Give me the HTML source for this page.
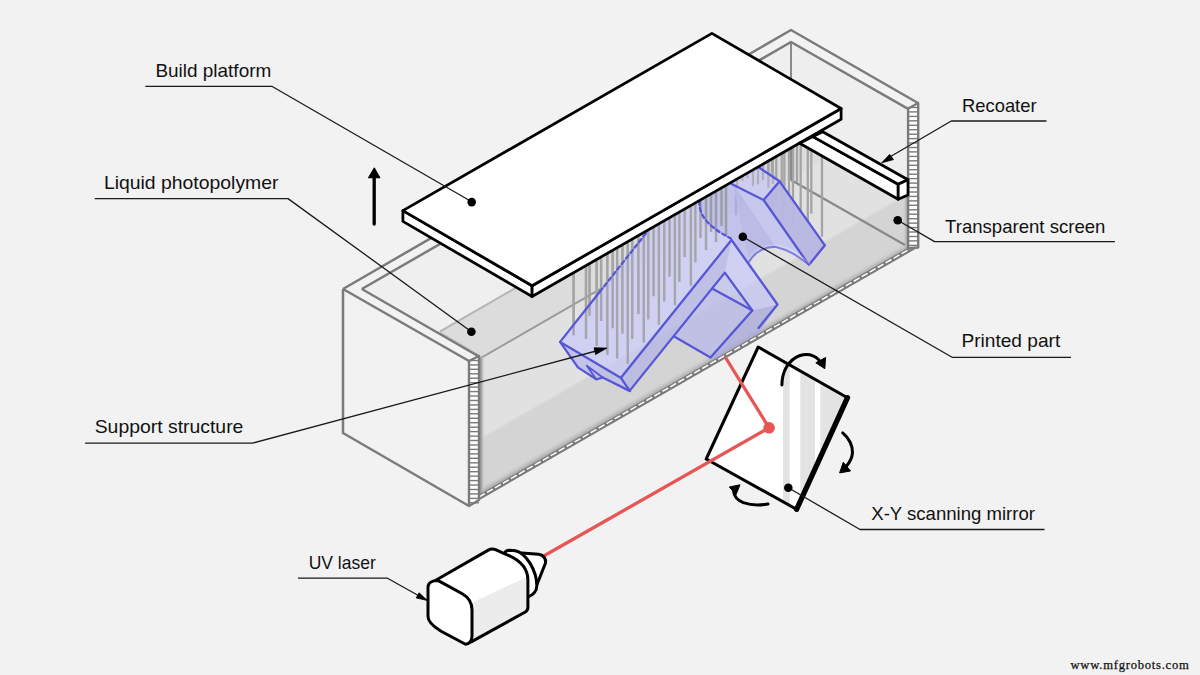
<!DOCTYPE html>
<html><head><meta charset="utf-8"><style>
html,body{margin:0;padding:0;background:#f2f2f2;}
svg{display:block;}
</style></head><body>
<svg width="1200" height="675" viewBox="0 0 1200 675">
<rect width="1200" height="675" fill="#f2f2f2"/>
<polygon points="343.0,289.0 469.0,361.0 469.0,506.0 343.0,433.0" fill="#f2f2f2" stroke="none" stroke-width="0" stroke-linejoin="round" />
<polygon points="361.8,289.0 791.0,42.0 908.0,108.0 907.5,110.0 479.0,357.0 477.0,355.0" fill="#efefef" stroke="none" stroke-width="0" stroke-linejoin="round" />
<polygon points="439.8,331.7 791.0,129.0 907.5,196.0 907.5,111.8 482.6,357.0" fill="#dcdcdc" stroke="none" stroke-width="0" stroke-linejoin="round" />
<line x1="439.8" y1="331.7" x2="791.0" y2="129.0" stroke="#b5b5b5" stroke-width="2" />
<polygon points="479.0,359.0 907.5,111.8 907.5,248.0 479.0,494.0" fill="#e1e1e1" stroke="none" stroke-width="0" stroke-linejoin="round" />
<polygon points="479.0,439.5 907.5,194.5 907.5,248.0 479.0,494.0" fill="#d4d4d4" stroke="none" stroke-width="0" stroke-linejoin="round" />
<line x1="479.0" y1="439.5" x2="907.5" y2="194.5" stroke="#dadada" stroke-width="1.5" />
<defs><linearGradient id="gb" gradientUnits="userSpaceOnUse" x1="700" y1="367.8" x2="696.5" y2="361.7"><stop offset="0" stop-color="#a8a8a8"/><stop offset="0.4" stop-color="#c2c2c2"/><stop offset="1" stop-color="#d4d4d4" stop-opacity="0"/></linearGradient><linearGradient id="gl" gradientUnits="userSpaceOnUse" x1="479" y1="0" x2="485" y2="0"><stop offset="0" stop-color="#8f8f8f"/><stop offset="0.45" stop-color="#a9a9a9"/><stop offset="1" stop-color="#d8d8d8" stop-opacity="0"/></linearGradient><linearGradient id="gr" gradientUnits="userSpaceOnUse" x1="908" y1="0" x2="902" y2="0"><stop offset="0" stop-color="#9a9a9a"/><stop offset="1" stop-color="#d8d8d8" stop-opacity="0"/></linearGradient></defs>
<polygon points="479.0,500.0 907.5,253.0 907.5,240.0 479.0,487.0" fill="url(#gb)" stroke="none" stroke-width="0" stroke-linejoin="round" />
<polygon points="478.0,358.0 487.0,353.0 487.0,495.0 478.0,500.0" fill="url(#gl)" stroke="none" stroke-width="0" stroke-linejoin="round" />
<polygon points="902.0,190.0 908.0,187.0 908.0,252.0 902.0,256.0" fill="url(#gr)" stroke="none" stroke-width="0" stroke-linejoin="round" />
<polygon points="791.0,42.0 908.0,108.0 908.0,190.0 791.0,124.0" fill="#eeeeee" stroke="none" stroke-width="0" stroke-linejoin="round" />
<line x1="791.0" y1="42.0" x2="791.0" y2="180.0" stroke="#8a8a8a" stroke-width="2" />
<line x1="791.0" y1="180.0" x2="905.0" y2="245.0" stroke="#888888" stroke-width="2.2" />
<line x1="482.6" y1="357.0" x2="608.0" y2="284.6" stroke="#9a9a9a" stroke-width="2" />
<line x1="440.0" y1="333.0" x2="479.0" y2="356.0" stroke="#c2c2c2" stroke-width="3" />
<polyline points="343.0,289.0 791.0,30.0 918.0,103.0" fill="none" stroke="#7b7b7b" stroke-width="2.5" stroke-linejoin="round" />
<polyline points="361.8,289.0 791.0,42.0 908.1,108.8" fill="none" stroke="#7b7b7b" stroke-width="2.5" stroke-linejoin="round" />
<line x1="361.8" y1="289.0" x2="478.0" y2="356.0" stroke="#7b7b7b" stroke-width="2.5" />
<polyline points="343.0,289.0 343.0,433.0 469.0,506.0" fill="none" stroke="#7b7b7b" stroke-width="2.5" stroke-linejoin="round" />
<line x1="343.0" y1="289.0" x2="469.0" y2="361.0" stroke="#7b7b7b" stroke-width="2.5" />
<polygon points="469.0,506.0 918.0,247.5 918.0,242.0 469.0,500.5" fill="#7b7b7b" stroke="none" stroke-width="0" stroke-linejoin="round" />
<line x1="471.0" y1="501.6" x2="916.0" y2="245.4" stroke="#ffffff" stroke-width="1.5" stroke-dasharray="6.8 2.4"/>
<polygon points="469.0,361.0 479.0,356.0 479.0,500.0 469.0,506.0" fill="#ffffff" stroke="#7b7b7b" stroke-width="2.4" stroke-linejoin="round" />
<rect x="469.0" y="359.8" width="10.0" height="1.4" fill="#7b7b7b"/>
<rect x="469.0" y="364.2" width="10.0" height="1.4" fill="#7b7b7b"/>
<rect x="469.0" y="368.6" width="10.0" height="1.4" fill="#7b7b7b"/>
<rect x="469.0" y="373.1" width="10.0" height="1.4" fill="#7b7b7b"/>
<rect x="469.0" y="377.5" width="10.0" height="1.4" fill="#7b7b7b"/>
<rect x="469.0" y="382.0" width="10.0" height="1.4" fill="#7b7b7b"/>
<rect x="469.0" y="386.4" width="10.0" height="1.4" fill="#7b7b7b"/>
<rect x="469.0" y="390.9" width="10.0" height="1.4" fill="#7b7b7b"/>
<rect x="469.0" y="395.3" width="10.0" height="1.4" fill="#7b7b7b"/>
<rect x="469.0" y="399.8" width="10.0" height="1.4" fill="#7b7b7b"/>
<rect x="469.0" y="404.2" width="10.0" height="1.4" fill="#7b7b7b"/>
<rect x="469.0" y="408.7" width="10.0" height="1.4" fill="#7b7b7b"/>
<rect x="469.0" y="413.1" width="10.0" height="1.4" fill="#7b7b7b"/>
<rect x="469.0" y="417.6" width="10.0" height="1.4" fill="#7b7b7b"/>
<rect x="469.0" y="422.0" width="10.0" height="1.4" fill="#7b7b7b"/>
<rect x="469.0" y="426.5" width="10.0" height="1.4" fill="#7b7b7b"/>
<rect x="469.0" y="430.9" width="10.0" height="1.4" fill="#7b7b7b"/>
<rect x="469.0" y="435.4" width="10.0" height="1.4" fill="#7b7b7b"/>
<rect x="469.0" y="439.8" width="10.0" height="1.4" fill="#7b7b7b"/>
<rect x="469.0" y="444.3" width="10.0" height="1.4" fill="#7b7b7b"/>
<rect x="469.0" y="448.7" width="10.0" height="1.4" fill="#7b7b7b"/>
<rect x="469.0" y="453.2" width="10.0" height="1.4" fill="#7b7b7b"/>
<rect x="469.0" y="457.6" width="10.0" height="1.4" fill="#7b7b7b"/>
<rect x="469.0" y="462.1" width="10.0" height="1.4" fill="#7b7b7b"/>
<rect x="469.0" y="466.5" width="10.0" height="1.4" fill="#7b7b7b"/>
<rect x="469.0" y="471.0" width="10.0" height="1.4" fill="#7b7b7b"/>
<rect x="469.0" y="475.4" width="10.0" height="1.4" fill="#7b7b7b"/>
<rect x="469.0" y="479.9" width="10.0" height="1.4" fill="#7b7b7b"/>
<rect x="469.0" y="484.3" width="10.0" height="1.4" fill="#7b7b7b"/>
<rect x="469.0" y="488.8" width="10.0" height="1.4" fill="#7b7b7b"/>
<rect x="469.0" y="493.2" width="10.0" height="1.4" fill="#7b7b7b"/>
<rect x="469.0" y="497.7" width="10.0" height="1.4" fill="#7b7b7b"/>
<rect x="469.0" y="502.1" width="10.0" height="1.4" fill="#7b7b7b"/>
<polygon points="908.1,108.8 918.2,103.0 918.2,247.5 908.1,248.3" fill="#ffffff" stroke="#7b7b7b" stroke-width="2.4" stroke-linejoin="round" />
<rect x="908.1" y="106.8" width="10.1" height="1.4" fill="#7b7b7b"/>
<rect x="908.1" y="111.2" width="10.1" height="1.4" fill="#7b7b7b"/>
<rect x="908.1" y="115.7" width="10.1" height="1.4" fill="#7b7b7b"/>
<rect x="908.1" y="120.1" width="10.1" height="1.4" fill="#7b7b7b"/>
<rect x="908.1" y="124.6" width="10.1" height="1.4" fill="#7b7b7b"/>
<rect x="908.1" y="129.0" width="10.1" height="1.4" fill="#7b7b7b"/>
<rect x="908.1" y="133.5" width="10.1" height="1.4" fill="#7b7b7b"/>
<rect x="908.1" y="137.9" width="10.1" height="1.4" fill="#7b7b7b"/>
<rect x="908.1" y="142.3" width="10.1" height="1.4" fill="#7b7b7b"/>
<rect x="908.1" y="146.8" width="10.1" height="1.4" fill="#7b7b7b"/>
<rect x="908.1" y="151.2" width="10.1" height="1.4" fill="#7b7b7b"/>
<rect x="908.1" y="155.7" width="10.1" height="1.4" fill="#7b7b7b"/>
<rect x="908.1" y="160.1" width="10.1" height="1.4" fill="#7b7b7b"/>
<rect x="908.1" y="164.6" width="10.1" height="1.4" fill="#7b7b7b"/>
<rect x="908.1" y="169.0" width="10.1" height="1.4" fill="#7b7b7b"/>
<rect x="908.1" y="173.5" width="10.1" height="1.4" fill="#7b7b7b"/>
<rect x="908.1" y="177.9" width="10.1" height="1.4" fill="#7b7b7b"/>
<rect x="908.1" y="182.4" width="10.1" height="1.4" fill="#7b7b7b"/>
<rect x="908.1" y="186.8" width="10.1" height="1.4" fill="#7b7b7b"/>
<rect x="908.1" y="191.3" width="10.1" height="1.4" fill="#7b7b7b"/>
<rect x="908.1" y="195.7" width="10.1" height="1.4" fill="#7b7b7b"/>
<rect x="908.1" y="200.2" width="10.1" height="1.4" fill="#7b7b7b"/>
<rect x="908.1" y="204.6" width="10.1" height="1.4" fill="#7b7b7b"/>
<rect x="908.1" y="209.1" width="10.1" height="1.4" fill="#7b7b7b"/>
<rect x="908.1" y="213.5" width="10.1" height="1.4" fill="#7b7b7b"/>
<rect x="908.1" y="218.0" width="10.1" height="1.4" fill="#7b7b7b"/>
<rect x="908.1" y="222.4" width="10.1" height="1.4" fill="#7b7b7b"/>
<rect x="908.1" y="226.9" width="10.1" height="1.4" fill="#7b7b7b"/>
<rect x="908.1" y="231.3" width="10.1" height="1.4" fill="#7b7b7b"/>
<rect x="908.1" y="235.8" width="10.1" height="1.4" fill="#7b7b7b"/>
<rect x="908.1" y="240.2" width="10.1" height="1.4" fill="#7b7b7b"/>
<rect x="908.1" y="244.7" width="10.1" height="1.4" fill="#7b7b7b"/>
<g opacity="1.0">
<line x1="573.6" y1="272.7" x2="573.6" y2="335.3" stroke="#a4a4a4" stroke-width="2.3" />
<line x1="586.0" y1="265.6" x2="586.0" y2="338.9" stroke="#a4a4a4" stroke-width="2.3" />
<line x1="589.6" y1="263.5" x2="589.6" y2="315.8" stroke="#a4a4a4" stroke-width="2.3" />
<line x1="596.7" y1="259.5" x2="596.7" y2="346.0" stroke="#a4a4a4" stroke-width="2.3" />
<line x1="601.1" y1="256.9" x2="601.1" y2="321.0" stroke="#a4a4a4" stroke-width="2.3" />
<line x1="607.3" y1="253.4" x2="607.3" y2="354.9" stroke="#a4a4a4" stroke-width="2.3" />
<line x1="612.7" y1="250.3" x2="612.7" y2="328.2" stroke="#a4a4a4" stroke-width="2.3" />
<line x1="617.1" y1="247.8" x2="617.1" y2="358.4" stroke="#a4a4a4" stroke-width="2.3" />
<line x1="622.4" y1="244.7" x2="622.4" y2="333.6" stroke="#a4a4a4" stroke-width="2.3" />
<line x1="627.8" y1="241.6" x2="627.8" y2="363.8" stroke="#a4a4a4" stroke-width="2.3" />
<line x1="632.2" y1="239.1" x2="632.2" y2="338.9" stroke="#a4a4a4" stroke-width="2.3" />
<line x1="638.4" y1="235.5" x2="638.4" y2="314.0" stroke="#a4a4a4" stroke-width="2.3" />
<line x1="643.8" y1="232.4" x2="643.8" y2="342.4" stroke="#a4a4a4" stroke-width="2.3" />
<line x1="648.2" y1="229.9" x2="648.2" y2="319.3" stroke="#a4a4a4" stroke-width="2.3" />
<line x1="653.6" y1="226.8" x2="653.6" y2="296.2" stroke="#a4a4a4" stroke-width="2.3" />
<line x1="658.9" y1="223.8" x2="658.9" y2="324.7" stroke="#a4a4a4" stroke-width="2.3" />
<line x1="664.2" y1="220.7" x2="664.2" y2="301.6" stroke="#a4a4a4" stroke-width="2.3" />
<line x1="669.6" y1="217.6" x2="669.6" y2="276.7" stroke="#a4a4a4" stroke-width="2.3" />
<line x1="674.9" y1="214.6" x2="674.9" y2="305.1" stroke="#a4a4a4" stroke-width="2.3" />
<line x1="679.3" y1="212.1" x2="679.3" y2="282.0" stroke="#a4a4a4" stroke-width="2.3" />
<line x1="684.7" y1="209.0" x2="684.7" y2="257.1" stroke="#a4a4a4" stroke-width="2.3" />
<line x1="690.9" y1="205.4" x2="690.9" y2="285.6" stroke="#a4a4a4" stroke-width="2.3" />
<line x1="695.3" y1="202.9" x2="695.3" y2="262.4" stroke="#a4a4a4" stroke-width="2.3" />
<line x1="700.5" y1="199.9" x2="700.5" y2="238.0" stroke="#a4a4a4" stroke-width="2.3" />
<line x1="706.0" y1="196.8" x2="706.0" y2="250.0" stroke="#a4a4a4" stroke-width="2.3" />
<line x1="711.0" y1="193.9" x2="711.0" y2="232.0" stroke="#a4a4a4" stroke-width="2.3" />
<line x1="716.0" y1="191.0" x2="716.0" y2="242.0" stroke="#a4a4a4" stroke-width="2.3" />
<line x1="721.5" y1="187.9" x2="721.5" y2="226.0" stroke="#a4a4a4" stroke-width="2.3" />
<line x1="726.0" y1="185.3" x2="726.0" y2="236.0" stroke="#a4a4a4" stroke-width="2.3" />
</g>
<g opacity="1.0">
<line x1="736.0" y1="179.6" x2="736.0" y2="215.0" stroke="#a4a4a4" stroke-width="2.3" />
<line x1="741.0" y1="176.7" x2="741.0" y2="205.0" stroke="#a4a4a4" stroke-width="2.3" />
<line x1="752.0" y1="170.4" x2="752.0" y2="200.0" stroke="#a4a4a4" stroke-width="2.3" />
<line x1="762.0" y1="164.7" x2="762.0" y2="205.0" stroke="#a4a4a4" stroke-width="2.3" />
<line x1="768.3" y1="161.0" x2="768.3" y2="200.0" stroke="#a4a4a4" stroke-width="2.3" />
<line x1="772.0" y1="158.9" x2="772.0" y2="214.0" stroke="#a4a4a4" stroke-width="2.3" />
<line x1="776.3" y1="156.5" x2="776.3" y2="205.0" stroke="#a4a4a4" stroke-width="2.3" />
<line x1="781.7" y1="153.4" x2="781.7" y2="222.0" stroke="#a4a4a4" stroke-width="2.3" />
<line x1="784.3" y1="151.9" x2="784.3" y2="210.0" stroke="#a4a4a4" stroke-width="2.3" />
<line x1="789.0" y1="149.2" x2="789.0" y2="199.0" stroke="#a4a4a4" stroke-width="2.3" />
<line x1="793.0" y1="146.9" x2="793.0" y2="226.0" stroke="#a4a4a4" stroke-width="2.3" />
<line x1="797.0" y1="144.6" x2="797.0" y2="182.0" stroke="#a4a4a4" stroke-width="2.3" />
<line x1="800.7" y1="142.5" x2="800.7" y2="214.0" stroke="#a4a4a4" stroke-width="2.3" />
<line x1="807.8" y1="138.4" x2="807.8" y2="224.0" stroke="#a4a4a4" stroke-width="2.3" />
<line x1="811.3" y1="136.4" x2="811.3" y2="213.6" stroke="#a4a4a4" stroke-width="2.3" />
<line x1="822.0" y1="130.3" x2="822.0" y2="236.7" stroke="#a4a4a4" stroke-width="2.3" />
</g>
<path d="M560.1,341.9 L647,232 L647,226 L760,160 L779.6,181.3 L824.9,245.3 L808.9,264.9 C800,258 790,250 776,247 C765,246 754,253 749.3,261.5 L777.5,304.5 L759,333.5 L712,360.5 L710.5,357.5 L673.7,336.3 L630,390.4 L602.8,377.5 L596.2,379.3 L577.9,367.4 Z" fill="rgba(196,196,255,0.6)" stroke="none" stroke-width="0" stroke-linejoin="round" stroke-linecap="round" />
<path d="M732.6,183.1 L760,166 L779.6,181.3 L824.9,245.3 L808.9,264.9 C800,258 790,250 776,247 C765,246 754,253 749.3,261.5 Z" fill="#c6c6ee" stroke="none" stroke-width="0" stroke-linejoin="round" stroke-linecap="round" opacity="0.9"/>
<g opacity="0.88">
<line x1="573.6" y1="272.7" x2="573.6" y2="335.3" stroke="#a4a4a4" stroke-width="2.3" />
<line x1="586.0" y1="265.6" x2="586.0" y2="338.9" stroke="#a4a4a4" stroke-width="2.3" />
<line x1="589.6" y1="263.5" x2="589.6" y2="315.8" stroke="#a4a4a4" stroke-width="2.3" />
<line x1="596.7" y1="259.5" x2="596.7" y2="346.0" stroke="#a4a4a4" stroke-width="2.3" />
<line x1="601.1" y1="256.9" x2="601.1" y2="321.0" stroke="#a4a4a4" stroke-width="2.3" />
<line x1="607.3" y1="253.4" x2="607.3" y2="354.9" stroke="#a4a4a4" stroke-width="2.3" />
<line x1="612.7" y1="250.3" x2="612.7" y2="328.2" stroke="#a4a4a4" stroke-width="2.3" />
<line x1="617.1" y1="247.8" x2="617.1" y2="358.4" stroke="#a4a4a4" stroke-width="2.3" />
<line x1="622.4" y1="244.7" x2="622.4" y2="333.6" stroke="#a4a4a4" stroke-width="2.3" />
<line x1="627.8" y1="241.6" x2="627.8" y2="363.8" stroke="#a4a4a4" stroke-width="2.3" />
<line x1="632.2" y1="239.1" x2="632.2" y2="338.9" stroke="#a4a4a4" stroke-width="2.3" />
<line x1="638.4" y1="235.5" x2="638.4" y2="314.0" stroke="#a4a4a4" stroke-width="2.3" />
<line x1="643.8" y1="232.4" x2="643.8" y2="342.4" stroke="#a4a4a4" stroke-width="2.3" />
<line x1="648.2" y1="229.9" x2="648.2" y2="319.3" stroke="#a4a4a4" stroke-width="2.3" />
<line x1="653.6" y1="226.8" x2="653.6" y2="296.2" stroke="#a4a4a4" stroke-width="2.3" />
<line x1="658.9" y1="223.8" x2="658.9" y2="324.7" stroke="#a4a4a4" stroke-width="2.3" />
<line x1="664.2" y1="220.7" x2="664.2" y2="301.6" stroke="#a4a4a4" stroke-width="2.3" />
<line x1="669.6" y1="217.6" x2="669.6" y2="276.7" stroke="#a4a4a4" stroke-width="2.3" />
<line x1="674.9" y1="214.6" x2="674.9" y2="305.1" stroke="#a4a4a4" stroke-width="2.3" />
<line x1="679.3" y1="212.1" x2="679.3" y2="282.0" stroke="#a4a4a4" stroke-width="2.3" />
<line x1="684.7" y1="209.0" x2="684.7" y2="257.1" stroke="#a4a4a4" stroke-width="2.3" />
<line x1="690.9" y1="205.4" x2="690.9" y2="285.6" stroke="#a4a4a4" stroke-width="2.3" />
<line x1="695.3" y1="202.9" x2="695.3" y2="262.4" stroke="#a4a4a4" stroke-width="2.3" />
<line x1="700.5" y1="199.9" x2="700.5" y2="238.0" stroke="#a4a4a4" stroke-width="2.3" />
<line x1="706.0" y1="196.8" x2="706.0" y2="250.0" stroke="#a4a4a4" stroke-width="2.3" />
<line x1="711.0" y1="193.9" x2="711.0" y2="232.0" stroke="#a4a4a4" stroke-width="2.3" />
<line x1="716.0" y1="191.0" x2="716.0" y2="242.0" stroke="#a4a4a4" stroke-width="2.3" />
<line x1="721.5" y1="187.9" x2="721.5" y2="226.0" stroke="#a4a4a4" stroke-width="2.3" />
<line x1="726.0" y1="185.3" x2="726.0" y2="236.0" stroke="#a4a4a4" stroke-width="2.3" />
</g>
<g opacity="0.9">
<line x1="737.0" y1="179.0" x2="737.0" y2="186.0" stroke="#a4a4a4" stroke-width="2.2" />
<line x1="742.5" y1="175.8" x2="742.5" y2="181.0" stroke="#a4a4a4" stroke-width="2.2" />
<line x1="747.6" y1="172.9" x2="747.6" y2="178.4" stroke="#a4a4a4" stroke-width="2.2" />
<line x1="753.0" y1="169.8" x2="753.0" y2="186.0" stroke="#a4a4a4" stroke-width="2.2" />
<line x1="758.0" y1="167.0" x2="758.0" y2="184.6" stroke="#a4a4a4" stroke-width="2.2" />
<line x1="763.0" y1="164.1" x2="763.0" y2="180.0" stroke="#a4a4a4" stroke-width="2.2" />
<line x1="768.4" y1="161.0" x2="768.4" y2="187.7" stroke="#a4a4a4" stroke-width="2.2" />
<line x1="773.0" y1="158.4" x2="773.0" y2="184.0" stroke="#a4a4a4" stroke-width="2.2" />
</g>
<path d="M699.4,200.5 C699,214 705,225 730.9,238.5 L731.5,240 L749.3,261.5 C754,253 765,246 776,247 L732.6,183.1 Z" fill="rgba(60,60,140,0.09)" stroke="none" stroke-width="0" stroke-linejoin="round" stroke-linecap="round" />
<path d="M621.1,377.5 L731.5,240 L724.8,272.6 L630,390.4 Z" fill="rgba(60,60,120,0.10)" stroke="none" stroke-width="0" stroke-linejoin="round" stroke-linecap="round" />
<path d="M673.7,336.3 L724.8,272.6 L752.3,310.4 L710.5,357.5 Z" fill="rgba(60,60,120,0.08)" stroke="none" stroke-width="0" stroke-linejoin="round" stroke-linecap="round" />
<path d="M713,289 L724.8,272.6 L752.3,310.4 Z" fill="rgba(255,255,255,0.10)" stroke="none" stroke-width="0" stroke-linejoin="round" stroke-linecap="round" />
<path d="M752.3,310.4 L777.5,304.5 L759,333.5 L712,360.5 L710.5,357.5 Z" fill="rgba(60,60,120,0.14)" stroke="none" stroke-width="0" stroke-linejoin="round" stroke-linecap="round" />
<path d="M779.6,181.3 L824.9,245.3 L808.9,264.9 L763.6,200 Z" fill="rgba(60,60,120,0.10)" stroke="none" stroke-width="0" stroke-linejoin="round" stroke-linecap="round" />
<path d="M732.6,183.1 L760,168 L779.6,181.3 L763.6,200 Z" fill="rgba(255,255,255,0.12)" stroke="none" stroke-width="0" stroke-linejoin="round" stroke-linecap="round" />
<path d="M560.1,341.9 L621.1,378.1 L630,391.1 L602.8,377.5 L596.2,379.3 L577.9,367.4 Z" fill="rgba(60,60,120,0.08)" stroke="none" stroke-width="0" stroke-linejoin="round" stroke-linecap="round" />
<path d="M560.1,341.9 L600,291.5" fill="none" stroke="#5656d6" stroke-width="2.3" stroke-linejoin="round" stroke-linecap="round" />
<path d="M600,291.5 L647,232" fill="none" stroke="#5656d6" stroke-width="2.3" stroke-linejoin="round" stroke-linecap="round" stroke-dasharray="4 3"/>
<path d="M699.4,201 C699,214 705,225 730.9,238.5" fill="none" stroke="#5656d6" stroke-width="2.3" stroke-linejoin="round" stroke-linecap="round" stroke-dasharray="4 3"/>
<path d="M560.1,341.9 L577.9,367.4 L596.2,379.3 L602.8,377.5 L630,391.1 L621.1,378.1 L560.1,341.9" fill="none" stroke="#5656d6" stroke-width="2.3" stroke-linejoin="round" stroke-linecap="round" />
<path d="M586.8,365.7 L602.8,377.5 M586.8,365.7 L596.2,379.3" fill="none" stroke="#5656d6" stroke-width="1.9" stroke-linejoin="round" stroke-linecap="round" />
<path d="M621.1,377.5 L731.5,240 L777.5,304.5 L758.5,328" fill="none" stroke="#5656d6" stroke-width="2.3" stroke-linejoin="round" stroke-linecap="round" />
<path d="M630,390.4 L724.8,272.6 L752.3,310.4 L710.5,357.5 L673.7,336.3" fill="none" stroke="#5656d6" stroke-width="2.3" stroke-linejoin="round" stroke-linecap="round" />
<path d="M713,289 L752.3,310.4" fill="none" stroke="#5656d6" stroke-width="2.3" stroke-linejoin="round" stroke-linecap="round" />
<path d="M731.6,184 L763.6,200 L779.6,181.3 L824.9,245.3 L808.9,264.9 L763.6,200" fill="none" stroke="#5656d6" stroke-width="2.3" stroke-linejoin="round" stroke-linecap="round" />
<path d="M759,167.5 L779.6,181.3" fill="none" stroke="#5656d6" stroke-width="2.3" stroke-linejoin="round" stroke-linecap="round" />
<path d="M751,258 C756,251 765,246 776,246.5 C790,248 800,256 808.9,264.9" fill="none" stroke="rgba(255,255,255,0.25)" stroke-width="4" stroke-linejoin="round" stroke-linecap="round" />
<path d="M749.3,261.5 C754,253 765,246 776,247 C790,250 800,258 808.9,264.9" fill="none" stroke="rgba(86,86,214,0.7)" stroke-width="2.1" stroke-linejoin="round" stroke-linecap="round" />
<polygon points="402.9,210.6 532.1,285.7 532.1,296.5 402.9,221.4" fill="#fff" stroke="#000" stroke-width="2.75" stroke-linejoin="round" />
<polygon points="532.1,285.7 841.1,108.5 841.1,119.3 532.1,296.5" fill="#fff" stroke="#000" stroke-width="2.75" stroke-linejoin="round" />
<polygon points="402.9,210.6 711.9,33.4 841.1,108.5 532.1,285.7" fill="#fff" stroke="#000" stroke-width="2.75" stroke-linejoin="round" />
<polygon points="812.9,136.6 898.2,184.2 898.2,199.3 799.6,143.3" fill="#fff" stroke="#000" stroke-width="2.75" stroke-linejoin="round" />
<polygon points="822.7,131.8 908.0,179.8 898.2,184.2 812.9,136.6" fill="#fff" stroke="#000" stroke-width="2.75" stroke-linejoin="round" />
<polygon points="898.2,184.2 908.0,179.8 908.0,194.9 898.2,199.3" fill="#fff" stroke="#000" stroke-width="2.75" stroke-linejoin="round" />
<polygon points="758.2,347.0 847.5,397.7 796.6,509.3 706.2,459.0" fill="#fff" stroke="none" stroke-width="0" stroke-linejoin="round" />
<clipPath id="mc"><polygon points="758.2,347.0 847.5,397.7 796.6,509.3 706.2,459.0"/></clipPath>
<g clip-path="url(#mc)">
<rect x="783" y="340" width="6.7" height="180" fill="#e3e3e3"/>
<rect x="800.3" y="340" width="14.7" height="180" fill="#e3e3e3"/>
<rect x="820.3" y="340" width="30" height="180" fill="#e3e3e3"/>
</g>
<polyline points="847.5,397.7 758.2,347.0 706.2,459.0 796.6,509.3" fill="none" stroke="#000" stroke-width="3" stroke-linejoin="round" />
<line x1="847.5" y1="397.7" x2="796.6" y2="509.3" stroke="#000" stroke-width="5.3" stroke-linecap="round"/>
<polyline points="725.2,357.0 769.1,427.8 543.7,556.0" fill="none" stroke="#e85555" stroke-width="3.3" stroke-linejoin="round" />
<circle cx="769.1" cy="427.8" r="5.8" fill="#e85555"/>
<path d="M521.7,552.9 L538.6,554.2 C543,554.6 546.5,559 545.5,563 L536.8,585.3 L525,570 Z" fill="#ffffff" stroke="none" stroke-width="0" stroke-linejoin="round" stroke-linecap="round" />
<path d="M521.7,552.9 L538.6,554.2 C543,554.6 546.5,559 545.5,563 L537,584.5" fill="none" stroke="#000" stroke-width="3" stroke-linejoin="round" stroke-linecap="round" />
<path d="M504.8,553.8 C505,551 507,550.2 509.5,550.2 L515.4,550.7 C526,553 536.5,570 536.8,585.3 C537,591 533,595 528.5,596.5 L527.9,596 L527.9,580 C527.9,566 516,558 504.8,553.8 Z" fill="#ffffff" stroke="none" stroke-width="0" stroke-linejoin="round" stroke-linecap="round" />
<path d="M504.8,553.8 C505,551 507,550.2 509.5,550.2 L515.4,550.7 C526,553 536.5,570 536.8,585.3 C537,591 533,595 528.5,596.5" fill="none" stroke="#000" stroke-width="3" stroke-linejoin="round" stroke-linecap="round" />
<path d="M436.2,580 L488.3,550.1 C490.5,548.8 493,548.6 495.5,549.6 L504.8,553.8 C516,558 527.9,566 527.9,580 L527.9,607.5 C527.9,609.5 527,611 525.3,612 L471.2,641.9 Z" fill="#ffffff" stroke="none" stroke-width="0" stroke-linejoin="round" stroke-linecap="round" />
<path d="M471,603 L527.9,576.5 L527.9,607.5 C527.9,609.5 527,611 525.3,612 L471.2,641.9 Z" fill="#ececec" stroke="none" stroke-width="0" stroke-linejoin="round" stroke-linecap="round" />
<path d="M436.2,580 L488.3,550.1 C490.5,548.8 493,548.6 495.5,549.6 L504.8,553.8 C516,558 527.9,566 527.9,580 L527.9,607.5 C527.9,609.5 527,611 525.3,612 L471.2,641.9" fill="none" stroke="#000" stroke-width="3" stroke-linejoin="round" stroke-linecap="round" />
<path d="M437.8,580.4 L462.3,593.8 C467,596.5 472,602 472,610 L472,636.2 C472,641 469,644.3 465.5,644.3 L441.1,631.3 C434,627 428,622 428,616.6 L428,587.3 C428,583 432,580.4 437.8,580.4 Z" fill="#ffffff" stroke="#000" stroke-width="3" stroke-linejoin="round" stroke-linecap="round" />
<path d="M781.9,385 C782,372 788,360 800,355.5 C808,353 814,355 819,360" fill="none" stroke="#000" stroke-width="3" stroke-linejoin="round" stroke-linecap="round" stroke-linecap="round"/>
<polygon points="825.6,357.5 824.8,368.7 815.8,362.8" fill="#000" stroke="#000" stroke-width="1" stroke-linejoin="round" />
<path d="M842.7,432.9 C849,438 853,446 852.5,453 C852,458 850,462 846.5,466" fill="none" stroke="#000" stroke-width="3" stroke-linejoin="round" stroke-linecap="round" stroke-linecap="round"/>
<polygon points="839.6,472.9 843.3,462.2 850.5,471.0" fill="#000" stroke="#000" stroke-width="1" stroke-linejoin="round" />
<path d="M768,504 C760,505.5 750,505 743.3,502.7 C738,500.5 734,497 733.5,491" fill="none" stroke="#000" stroke-width="3" stroke-linejoin="round" stroke-linecap="round" stroke-linecap="round"/>
<polygon points="729.3,487.0 740.0,484.8 736.0,494.7" fill="#000" stroke="#000" stroke-width="1" stroke-linejoin="round" />
<text x="155.4" y="76.6" font-family="&quot;Liberation Sans&quot;, sans-serif" font-size="18.5" fill="#111" textLength="115.9" lengthAdjust="spacingAndGlyphs">Build platform</text>
<polyline points="145.3,86.3 271.8,86.3 471.7,201.7" fill="none" stroke="#1a1a1a" stroke-width="1.3" stroke-linejoin="round" />
<circle cx="471.7" cy="202.1" r="4.3" fill="#000"/>
<text x="962.1" y="111.9" font-family="&quot;Liberation Sans&quot;, sans-serif" font-size="18.5" fill="#111" textLength="74.4" lengthAdjust="spacingAndGlyphs">Recoater</text>
<polyline points="1046.5,121.0 951.3,121.0 888.0,158.0" fill="none" stroke="#1a1a1a" stroke-width="1.3" stroke-linejoin="round" />
<text x="103.9" y="189" font-family="&quot;Liberation Sans&quot;, sans-serif" font-size="18.5" fill="#111" textLength="174.6" lengthAdjust="spacingAndGlyphs">Liquid photopolymer</text>
<polyline points="94.7,198.6 288.0,198.6 471.4,331.7" fill="none" stroke="#1a1a1a" stroke-width="1.3" stroke-linejoin="round" />
<circle cx="471.4" cy="331.7" r="4.3" fill="#000"/>
<text x="945.1" y="232.9" font-family="&quot;Liberation Sans&quot;, sans-serif" font-size="18.5" fill="#111" textLength="160.3" lengthAdjust="spacingAndGlyphs">Transparent screen</text>
<polyline points="1114.9,241.6 934.6,241.6 897.7,220.3" fill="none" stroke="#1a1a1a" stroke-width="1.3" stroke-linejoin="round" />
<circle cx="897.7" cy="220.3" r="4.3" fill="#000"/>
<text x="961.4" y="347.4" font-family="&quot;Liberation Sans&quot;, sans-serif" font-size="18.5" fill="#111" textLength="98.9" lengthAdjust="spacingAndGlyphs">Printed part</text>
<polyline points="1071.0,357.3 952.1,357.3 742.8,236.8" fill="none" stroke="#1a1a1a" stroke-width="1.3" stroke-linejoin="round" />
<circle cx="742.8" cy="236.8" r="4.3" fill="#000"/>
<text x="94.7" y="433.2" font-family="&quot;Liberation Sans&quot;, sans-serif" font-size="18.5" fill="#111" textLength="148.7" lengthAdjust="spacingAndGlyphs">Support structure</text>
<polyline points="85.1,443.2 252.4,443.2 598.0,350.5" fill="none" stroke="#1a1a1a" stroke-width="1.3" stroke-linejoin="round" />
<text x="871.25" y="520.1" font-family="&quot;Liberation Sans&quot;, sans-serif" font-size="18.5" fill="#111" textLength="163.75" lengthAdjust="spacingAndGlyphs">X-Y scanning mirror</text>
<polyline points="1044.5,529.5 860.0,529.5 788.3,487.8" fill="none" stroke="#1a1a1a" stroke-width="1.3" stroke-linejoin="round" />
<circle cx="788.3" cy="487.8" r="4.3" fill="#000"/>
<text x="308.75" y="568.75" font-family="&quot;Liberation Sans&quot;, sans-serif" font-size="18.5" fill="#111" textLength="67" lengthAdjust="spacingAndGlyphs">UV laser</text>
<polyline points="298.0,578.2 387.5,578.2 421.0,597.0" fill="none" stroke="#1a1a1a" stroke-width="1.3" stroke-linejoin="round" />
<polygon points="881.7,162.8 889.6,154.4 893.5,159.6" fill="#000" stroke="#000" stroke-width="0.8" stroke-linejoin="round" />
<polygon points="606.9,348.1 594.1,347.8 595.6,354.6" fill="#000" stroke="#000" stroke-width="0.8" stroke-linejoin="round" />
<polygon points="427.4,600.5 419.1,592.8 416.2,597.9" fill="#000" stroke="#000" stroke-width="0.8" stroke-linejoin="round" />
<line x1="374.2" y1="177.0" x2="374.2" y2="224.0" stroke="#000" stroke-width="3.3" stroke-linecap="round"/>
<polygon points="374.3,167.8 368.4,177.8 380.0,177.8" fill="#000" stroke="#000" stroke-width="1" stroke-linejoin="round" />
<text x="1070.5" y="668.7" font-family="&quot;Liberation Serif&quot;, serif" font-size="12.6" fill="#111" stroke="#111" stroke-width="0.25" textLength="118.3" lengthAdjust="spacing">www.mfgrobots.com</text>
</svg>
</body></html>
